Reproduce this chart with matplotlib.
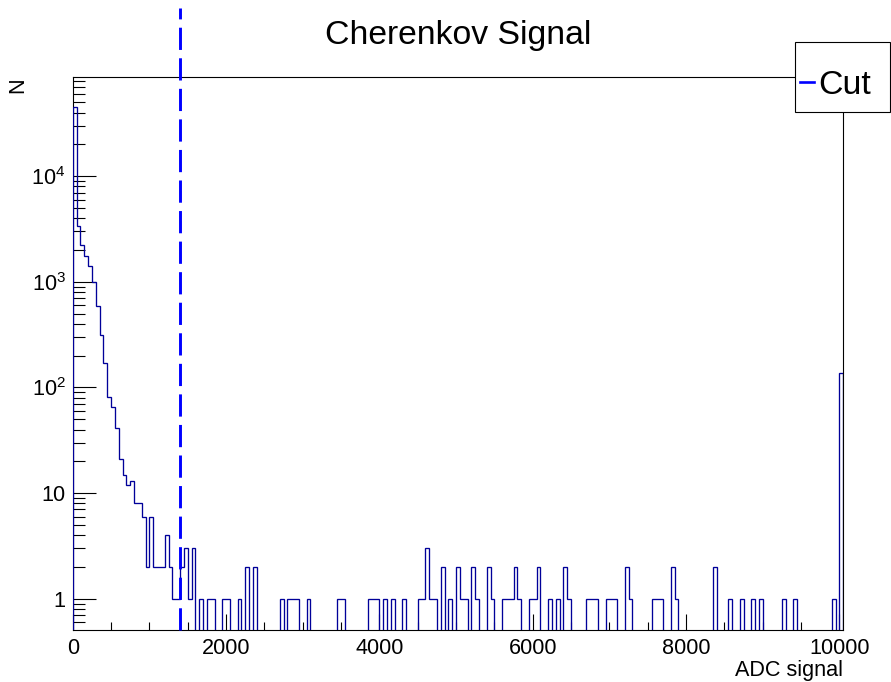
import numpy as np
import matplotlib
matplotlib.use("Agg")
import matplotlib.pyplot as plt
from matplotlib.ticker import FixedLocator, FuncFormatter, NullFormatter
from matplotlib.patches import Rectangle
from matplotlib.lines import Line2D

# ---------------- data ----------------
bin_width = 50
x_min = 0
x_max = 10050
counts = [
    45000, 3370, 2220, 1770, 1415, 1000, 585, 313, 170, 82,
    65, 41, 21, 15, 12, 13, 8, 8, 6, 2,
    6, 2, 2, 2, 4, 2, 1, 1, 2, 3,
    1, 3, 0, 1, 0, 1, 1, 0, 0, 1,
    1, 0, 0, 1, 0, 2, 0, 2, 0, 0,
    0, 0, 0, 0, 1, 0, 1, 1, 1, 0,
    0, 1, 0, 0, 0, 0, 0, 0, 0, 1,
    1, 0, 0, 0, 0, 0, 0, 1, 1, 1,
    0, 1, 0, 1, 0, 0, 1, 0, 0, 0,
    1, 1, 3, 1, 1, 0, 2, 0, 1, 0,
    2, 1, 1, 0, 2, 1, 0, 0, 2, 1,
    0, 0, 1, 1, 1, 2, 1, 0, 0, 1,
    1, 2, 0, 0, 1, 0, 1, 0, 2, 1,
    0, 0, 0, 0, 1, 1, 1, 0, 0, 1,
    1, 1, 0, 0, 2, 1, 0, 0, 0, 0,
    0, 1, 1, 1, 0, 0, 2, 1, 0, 0,
    0, 0, 0, 0, 0, 0, 0, 2, 0, 0,
    0, 1, 0, 0, 1, 0, 0, 1, 0, 1,
    0, 0, 0, 0, 0, 1, 0, 0, 1, 0,
    0, 0, 0, 0, 0, 0, 0, 0, 1, 0,
    137,
]
cut_value = 1395
title = "Cherenkov Signal"
x_label = "ADC signal"
y_label = "N"
legend_label = "Cut"
x_major_ticks = [0, 2000, 4000, 6000, 8000, 10000]
x_minor_ticks = [v for v in range(0, 10001, 500) if v % 2000 != 0]
y_major_ticks = [1, 10, 100, 1000, 10000]
y_tick_labels = {1: "1", 10: "10", 100: r"$\mathregular{10^{2}}$",
                 1000: r"$\mathregular{10^{3}}$", 10000: r"$\mathregular{10^{4}}$"}
y_lim = (0.506, 87000)

# ---------------- style ----------------
plt.rcParams["font.family"] = ["Liberation Sans", "DejaVu Sans"]
plt.rcParams["mathtext.fontset"] = "custom"
plt.rcParams["mathtext.rm"] = "Liberation Sans"
plt.rcParams["mathtext.it"] = "Liberation Sans:italic"
plt.rcParams["mathtext.bf"] = "Liberation Sans:bold"
plt.rcParams["lines.scale_dashes"] = False

W, H = 891, 682
fig = plt.figure(figsize=(W / 100, H / 100), dpi=100)

def fx(px):
    return px / W

def fy(py):
    return 1 - py / H

ax_left, ax_right, ax_top, ax_bottom = 72.7, 843.3, 77, 630
ax = fig.add_axes([fx(ax_left), fy(ax_bottom), fx(ax_right - ax_left), (ax_bottom - ax_top) / H])

edges = np.arange(x_min, x_max + bin_width, bin_width)
c = np.asarray(counts, dtype=float)
floor = 1e-3
vals = np.where(c > 0, c, floor)
ax.stairs(vals, edges, baseline=floor, fill=False, color="#000099", lw=0.95, zorder=3)

ax.set_yscale("log")
ax.set_xlim(x_min, x_max)
ax.set_ylim(*y_lim)

# cut line
ax.plot([cut_value, cut_value], [y_lim[0], 10 ** 5.594], color="#0000ff", lw=2.1,
        dashes=(16, 6), clip_on=False, zorder=4, solid_capstyle="butt", dash_capstyle="butt")

# ticks
ax.xaxis.set_major_locator(FixedLocator(x_major_ticks))
ax.xaxis.set_minor_locator(FixedLocator(x_minor_ticks))
ax.xaxis.set_major_formatter(FuncFormatter(lambda v, p: f"{int(v)}"))
ax.yaxis.set_major_locator(FixedLocator(y_major_ticks))
minor_y = [m * 10 ** e for e in range(-1, 5) for m in range(2, 10)]
ax.yaxis.set_minor_locator(FixedLocator(minor_y))
ax.yaxis.set_major_formatter(FuncFormatter(lambda v, p: y_tick_labels.get(int(round(v)), "")))
ax.yaxis.set_minor_formatter(NullFormatter())

ax.tick_params(axis="x", which="major", direction="in", length=11.5, width=0.8, labelsize=15.6, pad=6, top=False)
ax.tick_params(axis="x", which="minor", direction="in", length=5.8, width=0.8, top=False)
ax.tick_params(axis="y", which="major", direction="in", length=16.6, width=0.8, labelsize=15.6, pad=5, right=False)
ax.tick_params(axis="y", which="minor", direction="in", length=8.4, width=0.8, right=False)
for s in ax.spines.values():
    s.set_linewidth(0.8)
    s.set_color("black")

# titles
fig.text(fx(458), fy(44), title, ha="center", va="baseline", fontsize=24.3)
fig.text(fx(843), fy(676), x_label, ha="right", va="baseline", fontsize=15.6)
fig.text(fx(18), fy(85), y_label, ha="center", va="center", rotation=90, fontsize=15.6)

# legend box
lx0, lx1, ly0, ly1 = 795, 890, 42, 112
fig.add_artist(Rectangle((fx(lx0), fy(ly1)), fx(lx1 - lx0), (ly1 - ly0) / H,
                         transform=fig.transFigure, facecolor="white", edgecolor="black",
                         lw=0.8, zorder=10))
fig.add_artist(Line2D([fx(800), fx(814)], [fy(82), fy(82)], transform=fig.transFigure,
                      color="#0000ff", lw=1.9, zorder=11))
fig.text(fx(818), fy(94), legend_label, ha="left", va="baseline", fontsize=24.3, zorder=11)

fig.savefig("out.png", dpi=100)
